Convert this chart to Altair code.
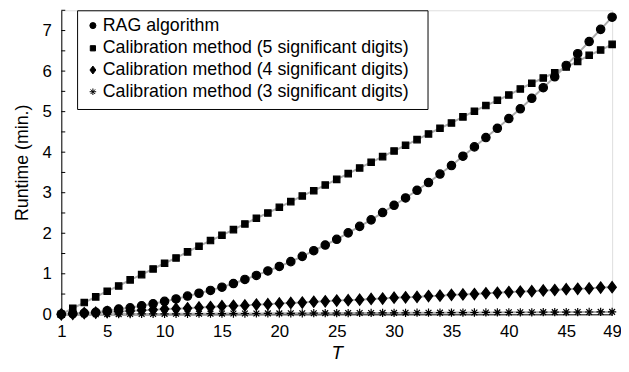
import altair as alt
import pandas as pd

T = list(range(1, 50))

rag = [0.00, 0.02, 0.03, 0.05, 0.09, 0.13, 0.16, 0.21, 0.26, 0.32,
       0.38, 0.45, 0.52, 0.59, 0.67, 0.76, 0.86, 0.96, 1.07, 1.18,
       1.30, 1.43, 1.57, 1.71, 1.85, 2.01, 2.17, 2.33, 2.51, 2.69,
       2.87, 3.06, 3.25, 3.46, 3.67, 3.90, 4.13, 4.36, 4.59, 4.83,
       5.07, 5.33, 5.59, 5.86, 6.14, 6.43, 6.73, 7.03, 7.33]

cal5 = [0.00, 0.15, 0.29, 0.43, 0.57, 0.70, 0.85, 0.98, 1.12, 1.26,
        1.39, 1.54, 1.68, 1.82, 1.95, 2.09, 2.23, 2.37, 2.50, 2.64,
        2.78, 2.92, 3.05, 3.19, 3.33, 3.47, 3.61, 3.75, 3.89, 4.03,
        4.17, 4.31, 4.45, 4.59, 4.72, 4.87, 5.01, 5.15, 5.28, 5.41,
        5.56, 5.70, 5.83, 5.96, 6.10, 6.24, 6.39, 6.52, 6.66]

cal4 = [0.00, 0.01, 0.03, 0.04, 0.06, 0.07, 0.08, 0.10, 0.11, 0.13,
        0.14, 0.15, 0.17, 0.18, 0.20, 0.21, 0.22, 0.24, 0.25, 0.27,
        0.28, 0.29, 0.31, 0.32, 0.34, 0.35, 0.36, 0.38, 0.39, 0.41,
        0.42, 0.43, 0.45, 0.46, 0.48, 0.49, 0.50, 0.52, 0.53, 0.55,
        0.56, 0.57, 0.59, 0.60, 0.62, 0.63, 0.64, 0.66, 0.67]

cal3 = [0.000, 0.001, 0.003, 0.004, 0.005, 0.006, 0.008, 0.009, 0.010, 0.011,
        0.013, 0.014, 0.015, 0.016, 0.018, 0.019, 0.020, 0.021, 0.023, 0.024,
        0.025, 0.026, 0.028, 0.029, 0.030, 0.031, 0.033, 0.034, 0.035, 0.036,
        0.038, 0.039, 0.040, 0.041, 0.043, 0.044, 0.045, 0.046, 0.048, 0.049,
        0.050, 0.051, 0.053, 0.054, 0.055, 0.056, 0.058, 0.059, 0.060]

names = [
    "RAG algorithm",
    "Calibration method (5 significant digits)",
    "Calibration method (4 significant digits)",
    "Calibration method (3 significant digits)",
]

x_ticks = [1, 5, 10, 15, 20, 25, 30, 35, 40, 45, 49]
y_labels = [0, 1, 2, 3, 4, 5, 6, 7]
y_ticks = [0, 0.5, 1, 1.5, 2, 2.5, 3, 3.5, 4, 4.5, 5, 5.5, 6, 6.5, 7, 7.5]

rows = []
for name, vals in zip(names, [rag, cal5, cal4, cal3]):
    for t, v in zip(T, vals):
        rows.append({"T": t, "runtime": v, "method": name})
df = pd.DataFrame(rows)
tick_df = pd.DataFrame({"tick": y_ticks})

FONT = "Liberation Sans"

diamond = "M0,-1L0.75,0L0,1L-0.75,0Z"
asterisk = "M0,-1L0,1M-1,0L1,0M-0.7,-0.7L0.7,0.7M-0.7,0.7L0.7,-0.7"
shapes = ["circle", "square", diamond, asterisk]
plot_sizes = [72, 42, 130, 70]
legend_sizes = [38, 28, 64, 44]

xenc = alt.X(
    "T:Q",
    scale=alt.Scale(domain=[1, 49], nice=False, zero=False),
    axis=alt.Axis(
        values=x_ticks, title="T", titleFontStyle="italic", titleFontWeight="normal",
        titleFont=FONT, titleFontSize=19, titleColor="black", titlePadding=5,
        labelFont=FONT, labelFontSize=17, labelColor="black", labelPadding=9,
        ticks=False, tickSize=0, grid=False, domainColor="black", domainWidth=1,
        labelFlush=False, labelOverlap=False,
    ),
)
yenc = alt.Y(
    "runtime:Q",
    scale=alt.Scale(domain=[0, 7.5], nice=False, zero=True),
    axis=alt.Axis(
        values=y_labels, title="Runtime (min.)", titleFont=FONT, titleFontSize=18,
        titleFontWeight="normal", titleColor="black", titlePadding=11,
        labelFont=FONT, labelFontSize=17, labelColor="black", labelPadding=10,
        ticks=False, tickSize=0, grid=False, domainColor="black", domainWidth=1,
    ),
)

lines = alt.Chart(df).mark_line(color="#ababab", strokeWidth=2).encode(
    x=xenc, y=yenc, detail="method:N"
)

point_layers = []
for name, shp, sz in zip(names, shapes, plot_sizes):
    point_layers.append(
        alt.Chart(df).transform_filter(alt.datum.method == name).mark_point(
            shape=shp, size=sz, filled=True, color="black", stroke="black",
            strokeWidth=1.2, opacity=1
        ).encode(x=xenc, y=yenc)
    )

ticks = alt.Chart(tick_df).mark_rule(color="black", strokeWidth=1).encode(
    y=alt.Y("tick:Q", scale=alt.Scale(domain=[0, 7.5], nice=False)),
    x=alt.value(0),
    x2=alt.value(4),
)

# legend (box + rows)
legend_df = pd.DataFrame({"k": [0]})
legend_layers = [
    alt.Chart(legend_df).mark_rect(fill="white", stroke="black", strokeWidth=1).encode(
        x=alt.value(16.5), x2=alt.value(371.5), y=alt.value(0.5), y2=alt.value(100.5)
    )
]
row_y = [15.5, 38.5, 60.5, 82.5]
for name, shp, sz, ry in zip(names, shapes, legend_sizes, row_y):
    legend_layers.append(
        alt.Chart(legend_df).mark_point(
            shape=shp, size=sz, filled=True, color="black", stroke="black",
            strokeWidth=1, opacity=1
        ).encode(x=alt.value(32), y=alt.value(ry))
    )
    legend_layers.append(
        alt.Chart(legend_df).mark_text(
            text=name, font=FONT, fontSize=18, color="black", align="left",
            baseline="middle"
        ).encode(x=alt.value(42), y=alt.value(ry))
    )

chart = alt.layer(lines, *point_layers, ticks, *legend_layers).properties(
    width=558,
    height=308,
    autosize=alt.AutoSizeParams(type="none"),
    padding={"left": 54, "top": 0, "right": 9, "bottom": 48},
).configure_view(stroke=None).configure(background="white")

chart.save("out.html", embed_options={"renderer": "svg", "actions": False})
